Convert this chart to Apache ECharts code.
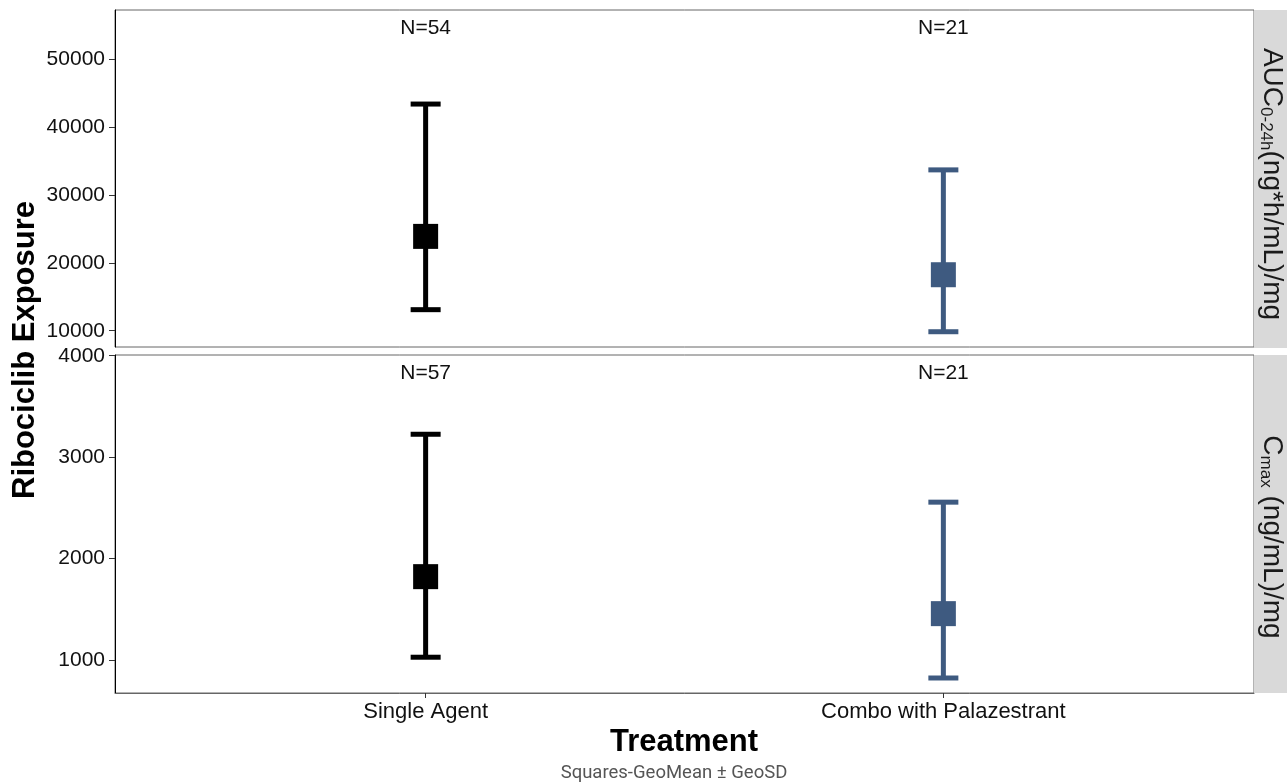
<!DOCTYPE html>
<html><head><meta charset="utf-8">
<script src="https://cdn.jsdelivr.net/npm/echarts@6/dist/echarts.min.js"></script>
<style>html,body{margin:0;padding:0;background:#fff}#c{width:1287px;height:782px}</style>
</head><body><div id="c"></div>
<script>
const categories = ['Single Agent', 'Combo with Palazestrant'];
const aucGeoMean = [23900, 18250];
const aucLower = [13100, 9850];
const aucUpper = [43400, 33700];
const aucN = [54, 21];
const cmaxGeoMean = [1820, 1455];
const cmaxLower = [1025, 820];
const cmaxUpper = [3225, 2555];
const cmaxN = [57, 21];
const groupColors = ['#000000', '#3E5A80'];
const aucTicks = [10000, 20000, 30000, 40000, 50000];
const cmaxTicks = [1000, 2000, 3000, 4000];
const catPositions = [1, 2];

const FAM = '"Liberation Sans", Arial, sans-serif';
const chart = echarts.init(document.getElementById('c'));

function errData(mean, lo, hi) {
  return categories.map((c, i) => [catPositions[i], mean[i], lo[i], hi[i], i]);
}
function nData(ns) {
  return categories.map((c, i) => [catPositions[i], ns[i]]);
}
function renderErr(params, api) {
  const x = api.value(0);
  const m = api.coord([x, api.value(1)]);
  const l = api.coord([x, api.value(2)]);
  const h = api.coord([x, api.value(3)]);
  const col = groupColors[api.value(4)];
  const cap = 15, sq = 12.5;
  const ls = { stroke: col, lineWidth: 5 };
  return { type: 'group', children: [
    { type: 'line', shape: { x1: m[0], y1: l[1], x2: m[0], y2: h[1] }, style: ls },
    { type: 'line', shape: { x1: m[0] - cap, y1: l[1], x2: m[0] + cap, y2: l[1] }, style: ls },
    { type: 'line', shape: { x1: m[0] - cap, y1: h[1], x2: m[0] + cap, y2: h[1] }, style: ls },
    { type: 'rect', shape: { x: m[0] - sq, y: m[1] - sq, width: 2 * sq, height: 2 * sq }, style: { fill: col } }
  ]};
}
function renderN(params, api) {
  const x = api.value(0);
  const p = api.coord([x, 0]);
  const cs = params.coordSys;
  return { type: 'text', style: { x: p[0], y: cs.y + 18, text: 'N=' + api.value(1), align: 'center', verticalAlign: 'middle', fontSize: 21, fontFamily: FAM, fill: '#111' } };
}

const yCommon = (ticks) => ({
  type: 'value',
  axisLine: { show: true, lineStyle: { color: '#000', width: 1 } },
  axisTick: { show: true, length: 6, lineStyle: { color: '#333' }, customValues: ticks },
  axisLabel: { customValues: ticks, formatter: v => String(v), color: '#111', fontSize: 21, fontFamily: FAM, margin: 10 },
  splitLine: { show: false }
});

const y0 = Object.assign(yCommon(aucTicks), { gridIndex: 0, min: 7600, max: 57260 });
const y1 = Object.assign(yCommon(cmaxTicks), { gridIndex: 1, min: 672, max: 4007 });

const stripRich = { sub: { fontSize: 17, fontFamily: FAM, fill: '#1a1a1a', padding: [12, 0, 0, 0] } };

chart.setOption({
  animation: false,
  grid: [
    { left: 115, top: 10, right: 33, height: 337, show: true, borderColor: '#666', borderWidth: 1 },
    { left: 115, top: 355, right: 33, height: 338, show: true, borderColor: '#666', borderWidth: 1 }
  ],
  xAxis: [
    { type: 'value', gridIndex: 0, min: 0.4, max: 2.6, axisLine: { show: false }, axisTick: { show: false }, axisLabel: { show: false }, splitLine: { show: false } },
    { type: 'value', gridIndex: 1, min: 0.4, max: 2.6,
      axisLine: { show: true, lineStyle: { color: '#666' } },
      axisTick: { show: true, length: 5, lineStyle: { color: '#333' }, customValues: catPositions },
      axisLabel: { customValues: catPositions, formatter: v => categories[Math.round(v) - 1], color: '#111', fontSize: 22, fontFamily: FAM, margin: 8 },
      splitLine: { show: false } }
  ],
  yAxis: [y0, y1],
  series: [
    { type: 'custom', xAxisIndex: 0, yAxisIndex: 0, renderItem: renderErr, data: errData(aucGeoMean, aucLower, aucUpper), z: 3 },
    { type: 'custom', xAxisIndex: 1, yAxisIndex: 1, renderItem: renderErr, data: errData(cmaxGeoMean, cmaxLower, cmaxUpper), z: 3 },
    { type: 'custom', xAxisIndex: 0, yAxisIndex: 0, renderItem: renderN, data: nData(aucN) },
    { type: 'custom', xAxisIndex: 1, yAxisIndex: 1, renderItem: renderN, data: nData(cmaxN) }
  ],
  graphic: [
    { type: 'rect', shape: { x: 1254, y: 10, width: 33, height: 338 }, style: { fill: '#D9D9D9' } },
    { type: 'rect', shape: { x: 1254, y: 355, width: 33, height: 338 }, style: { fill: '#D9D9D9' } },
    { type: 'text', x: 1272, y: 184, rotation: -Math.PI / 2,
      style: { text: 'AUC{sub|0-24h}(ng*h/mL)/mg', align: 'center', verticalAlign: 'middle', fontSize: 28, fontFamily: FAM, fill: '#1a1a1a', rich: stripRich } },
    { type: 'text', x: 1272, y: 537, rotation: -Math.PI / 2,
      style: { text: 'C{sub|max} (ng/mL)/mg', align: 'center', verticalAlign: 'middle', fontSize: 28, fontFamily: FAM, fill: '#1a1a1a', rich: stripRich } },
    { type: 'text', x: 25, y: 350, rotation: Math.PI / 2,
      style: { text: 'Ribociclib Exposure', align: 'center', verticalAlign: 'middle', fontSize: 31, fontWeight: 'bold', fontFamily: FAM, fill: '#000' } },
    { type: 'text', x: 684, y: 742,
      style: { text: 'Treatment', align: 'center', verticalAlign: 'middle', fontSize: 31, fontWeight: 'bold', fontFamily: FAM, fill: '#000' } },
    { type: 'text', x: 674, y: 773,
      style: { text: 'Squares-GeoMean ± GeoSD', align: 'center', verticalAlign: 'middle', fontSize: 18.5, fontFamily: 'Roboto, sans-serif', fill: '#555' } }
  ]
});
</script></body></html>
